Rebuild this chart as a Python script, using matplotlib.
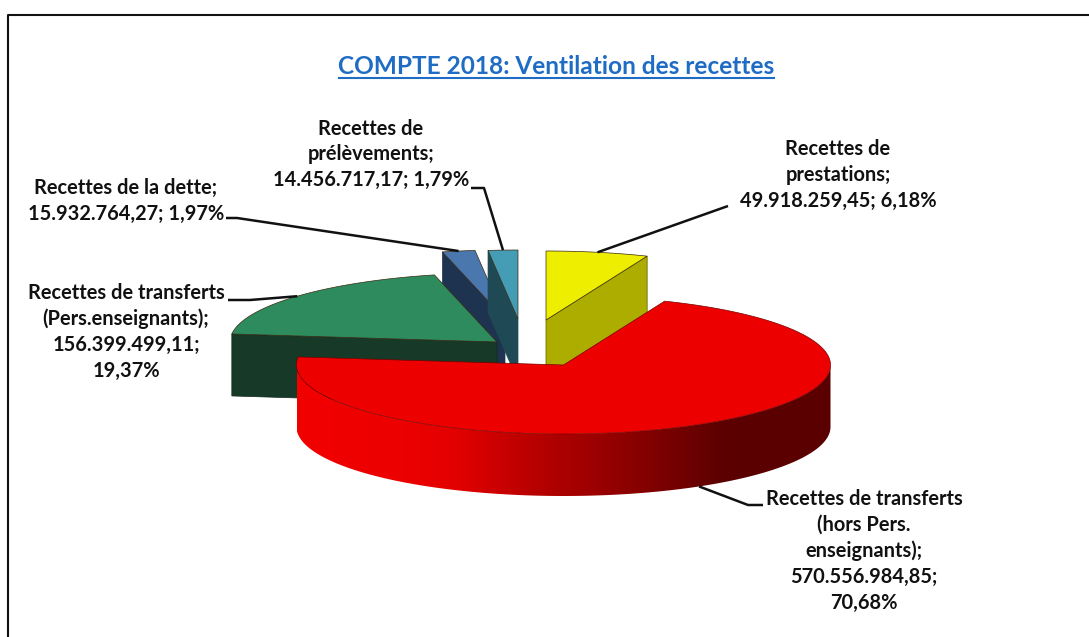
import numpy as np
import matplotlib
matplotlib.use("Agg")
import matplotlib.pyplot as plt
from matplotlib.colors import LinearSegmentedColormap
from matplotlib.patches import Polygon

plt.rcParams["font.family"] = ["Lato", "DejaVu Sans"]

# data
noms = [
    "Recettes de\nprestations;\n49.918.259,45; 6,18%",
    "Recettes de transferts\n(hors Pers.\nenseignants);\n570.556.984,85;\n70,68%",
    "Recettes de transferts\n(Pers.enseignants);\n156.399.499,11;\n19,37%",
    "Recettes de la dette;\n15.932.764,27; 1,97%",
    "Recettes de\nprélèvements;\n14.456.717,17; 1,79%",
]
valeurs = [49918259.45, 570556984.85, 156399499.11, 15932764.27, 14456717.17]

# style et position, en pixels de l'image
RX, RY, HAUT = 267, 69, 62
centres = [(546, 320), (563.5, 365), (497, 342), (505, 319), (518, 319)]
faces = ["#EEEE00", "#EC0000", "#2E8B5E", "#4A78AE", "#449DB5"]
cotes = ["#ADAD00", "#EC0000", "#173A28", "#1E3350", "#1F4A55"]
ordre = [3, 4, 0, 2, 1]
textes = [(838, 175), (864, 551), (126, 332), (126, 201), (371, 154.5)]
coudes = [
    [(728, 206)],
    [(748, 505), (763, 505)],
    [(250, 300), (228, 300)],
    [(237, 218), (226, 218)],
    [(484, 188), (471, 188)],
]


def point(c, angle, dy=0):
    # angle en degres, sens horaire depuis le nord
    a = np.radians(angle)
    return c[0] + RX * np.sin(a), c[1] - RY * np.cos(a) + dy


fig = plt.figure(figsize=(10.89, 6.37), dpi=100)
ax = fig.add_axes([0, 0, 1, 1])
ax.set_xlim(0, 1089)
ax.set_ylim(637, 0)
ax.axis("off")

# cadre
ax.plot([7.5, 7.5, 1089], [637, 14.5, 14.5], color="#111111", lw=1.5, zorder=1)

parts = np.array(valeurs) / sum(valeurs) * 360
debuts = np.concatenate([[0], np.cumsum(parts)[:-1]])
fins = debuts + parts

for z, i in enumerate(ordre):
    c = centres[i]
    angles = np.linspace(debuts[i], fins[i], 200)
    arc = [point(c, a) for a in angles]
    zo = 3 + z
    if i == 1:
        # paroi courbe avec degrade
        vus = angles[(angles >= 90) & (angles <= 270)]
        vus = np.concatenate([[90], vus, [270]])
        haut = [point(c, a) for a in vus]
        bas = [point(c, a, HAUT) for a in vus[::-1]]
        paroi = Polygon(haut + bas, closed=True, facecolor="none", edgecolor="none", zorder=zo)
        ax.add_patch(paroi)
        cmap = LinearSegmentedColormap.from_list(
            "rouge",
            [(0, "#F20000"), (0.2, "#EC0000"), (0.3, "#E20000"), (0.42, "#BE0000"), (0.6, "#920000"), (0.8, "#5C0000"), (1, "#5A0000")],
        )
        img = ax.imshow(
            np.linspace(0, 1, 256).reshape(1, -1),
            cmap=cmap,
            extent=(c[0] - RX, c[0] + RX, c[1] + RY + HAUT, c[1] - RY),
            aspect="auto",
            zorder=zo,
        )
        img.set_clip_path(paroi)
    elif i == 2:
        # paroi avant, bord gauche vers le sommet
        ax.add_patch(
            Polygon(
                [arc[0], c, (c[0], c[1] + HAUT), (arc[0][0], arc[0][1] + HAUT)],
                closed=True, facecolor=cotes[i], edgecolor="#0E2A1C", lw=0.5, zorder=zo,
            )
        )
    elif i in (3, 4):
        ax.add_patch(
            Polygon(
                [arc[0], c, (c[0], c[1] + HAUT), (arc[0][0], arc[0][1] + HAUT)],
                closed=True, facecolor=cotes[i], edgecolor=cotes[i], lw=0.5, zorder=zo,
            )
        )
    else:
        ax.add_patch(
            Polygon(
                [arc[-1], c, (c[0], c[1] + HAUT), (arc[-1][0], arc[-1][1] + HAUT)],
                closed=True, facecolor=cotes[i], edgecolor="#6E6E00", lw=0.6, zorder=zo,
            )
        )
    ax.add_patch(
        Polygon(
            [c] + arc, closed=True, facecolor=faces[i],
            edgecolor="#3A2A10" if i != 1 else "#7A0000", lw=0.5, zorder=zo + 0.1,
        )
    )

# etiquettes et traits de rappel
for i in range(len(valeurs)):
    c = centres[i]
    milieu = (debuts[i] + fins[i]) / 2
    dy = HAUT if i == 1 else 0
    ancre = point(c, milieu, dy)
    xs, ys = zip(*([ancre] + coudes[i]))
    ax.plot(xs, ys, color="#111111", lw=1.8, zorder=10, solid_capstyle="butt")
    ax.text(
        textes[i][0], textes[i][1], noms[i], ha="center", va="center",
        fontsize=14.4, fontweight="bold", color="#111111", linespacing=1.37, zorder=11,
    )

ax.text(556.5, 66, "COMPTE 2018: Ventilation des recettes", ha="center", va="center",
        fontsize=17.6, fontweight="bold", color="#1F6CC4")
ax.plot([339, 774], [77.5, 77.5], color="#1F6CC4", lw=1.5)

fig.savefig("out.png", dpi=100, facecolor="white")
